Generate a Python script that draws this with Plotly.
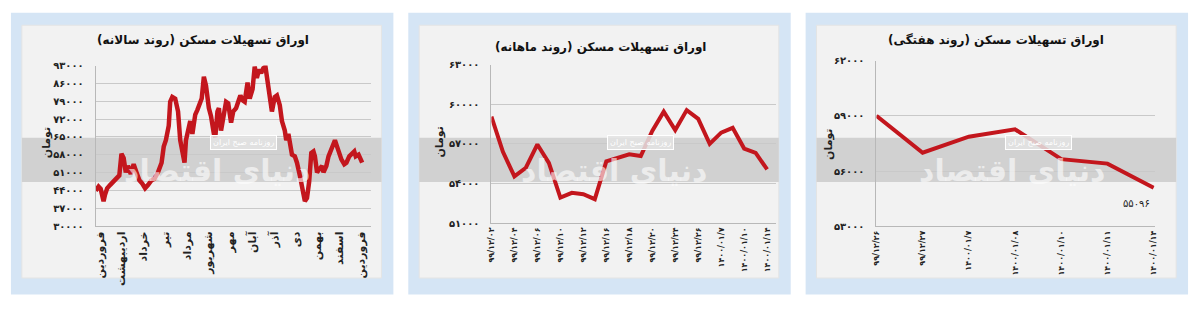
import plotly.graph_objects as go

# ---------------- data ----------------
# Panel 1: yearly trend (days from 1 Farvardin 1399, price in toman)
yearly_day = [-6, -2, 1, 5, 7, 10, 14, 19, 23, 27,
              30, 33, 36, 39, 43, 47, 51, 55, 59, 63,
              67, 72, 76, 81, 86, 89, 92, 96, 98, 101,
              105, 109, 112, 116, 118, 120, 123, 126, 129, 133,
              136, 140, 142, 145, 148, 152, 155, 159, 161, 164,
              166, 169, 172, 176, 179, 183, 186, 190, 193, 196,
              199, 202, 206, 209, 213, 216, 219, 222, 225, 228,
              231, 234, 237, 240, 244, 247, 251, 254, 258, 260,
              263, 266, 268, 272, 275, 279, 282, 286, 289, 292,
              295, 298, 300, 303, 306, 310, 312, 316, 319, 322,
              325, 328, 331, 334, 337, 341, 344, 348, 351, 355,
              357, 361, 364, 366]
yearly_val = [43850, 45500, 44600, 39800, 42300, 44850, 46100, 47600, 48600, 49900,
              58400, 56800, 51100, 53650, 50500, 54300, 51100, 48000, 46700, 44850,
              46100, 48000, 48600, 51100, 54900, 61200, 63700, 69400, 78800, 80700,
              80050, 75000, 63700, 57400, 54900, 63700, 68100, 71250, 66200, 73800,
              75650, 78800, 80050, 88600, 85100, 76300, 73150, 66200, 65000, 75000,
              76300, 67500, 72500, 78800, 78200, 70600, 75000, 76300, 78800, 81300,
              79400, 78800, 86300, 80050, 83800, 92600, 88200, 91400, 90100, 92000,
              92600, 86300, 81300, 75000, 80700, 81300, 77500, 71250, 67500, 63700,
              66200, 61200, 58050, 57400, 54900, 49900, 44850, 39800, 41050, 47400,
              58700, 59300, 57400, 51100, 52300, 53600, 51100, 53600, 57400, 59900,
              62500, 63700, 61200, 58700, 56200, 54300, 54900, 57400, 58050, 59300,
              57400, 58050, 56200, 54900]
month_labels = ["فروردین", "اردیبهشت", "خرداد", "تیر", "مرداد", "شهریور", "مهر",
                "آبان", "آذر", "دی", "بهمن", "اسفند", "فروردین"]
yearly_ticks = [30000, 37000, 44000, 51000, 58000, 65000, 72000, 79000, 86000, 93000]

# Panel 2: monthly trend
monthly_val = [59070, 56400, 54540, 55200, 56960, 55560, 52940, 53300, 53200, 52820,
               55680, 55920, 56210, 56090, 57980, 59440, 58050, 59560, 58900, 57010,
               57860, 58220, 56650, 56330, 55070]
monthly_labels = ["99/12/02", "99/12/04", "99/12/06", "99/12/10", "99/12/12",
                  "99/12/16", "99/12/18", "99/12/20", "99/12/24", "99/12/26",
                  "1400/01/7", "1400/01/10", "1400/01/14"]
monthly_ticks = [51000, 54000, 57000, 60000, 63000]

# Panel 3: weekly trend
weekly_labels = ["99/12/26", "99/12/27", "1400/01/7", "1400/01/08", "1400/01/10",
                 "1400/01/11", "1400/01/14"]
weekly_val = [58995, 56997, 57866, 58265, 56650, 56407, 55096]
weekly_ticks = [53000, 56000, 59000, 62000]

titles = ["اوراق تسهیلات مسکن (روند سالانه)",
          "اوراق تسهیلات مسکن (روند ماهانه)",
          "اوراق تسهیلات مسکن (روند هفتگی)"]
unit = "تومان"
watermark = "دنیای اقتصاد"
watermark_small = "روزنامه صبح ایران"

# ---------------- helpers ----------------
FA = str.maketrans("0123456789", "۰۱۲۳۴۵۶۷۸۹")
RLM = "\u200f"


def fa(s):
    return str(s).translate(FA)


def rtl(s):
    return RLM + s + RLM


W, H = 1200, 310
FONT = "DejaVu Sans"
RED = "#c3161d"
GRID = "#c9c9c9"


def px(x):
    return x / W


def py(y):
    return 1 - y / H


fig = go.Figure()

fig.add_trace(go.Scatter(x=yearly_day, y=yearly_val, mode="lines",
                         line=dict(color=RED, width=4.5), xaxis="x", yaxis="y",
                         showlegend=False, hoverinfo="skip"))
fig.add_trace(go.Scatter(x=list(range(len(monthly_val))), y=monthly_val, mode="lines",
                         line=dict(color=RED, width=4), xaxis="x2", yaxis="y2",
                         showlegend=False, hoverinfo="skip"))
fig.add_trace(go.Scatter(x=list(range(len(weekly_val))), y=weekly_val, mode="lines",
                         line=dict(color=RED, width=4), xaxis="x3", yaxis="y3",
                         showlegend=False, hoverinfo="skip"))

axis_common = dict(showgrid=False, zeroline=False, showline=True, linecolor="#b8b8b8",
                   linewidth=1, ticks="", fixedrange=True)
yaxis_common = dict(showgrid=True, gridcolor=GRID, gridwidth=1, zeroline=False,
                    showline=True, linecolor="#b8b8b8", linewidth=1, ticks="",
                    ticklabelstandoff=9, fixedrange=True,
                    tickfont=dict(family=FONT, size=10, color="#222", weight="bold"))

month_tickvals = [i * 365 / 12 for i in range(13)]

fig.update_layout(
    width=W, height=H,
    margin=dict(l=0, r=0, t=0, b=0),
    paper_bgcolor="white",
    plot_bgcolor="rgba(0,0,0,0)",
    xaxis=dict(axis_common, domain=[px(92.3), px(369)], range=[-6, 377.7],
               tickmode="array", tickvals=month_tickvals,
               ticktext=[rtl(m) for m in month_labels],
               tickangle=-90, anchor="y",
               tickfont=dict(family=FONT, size=11, color="#222", weight="bold")),
    yaxis=dict(yaxis_common, domain=[py(229), py(62)], range=[30000, 93000],
               tickmode="array", tickvals=yearly_ticks,
               ticktext=[fa(v) for v in yearly_ticks], anchor="x"),
    xaxis2=dict(axis_common, domain=[px(490.7), px(776.7)], range=[0, 24.73],
                tickmode="array", tickvals=list(range(0, len(monthly_val), 2)),
                ticktext=[fa(t) for t in monthly_labels], tickangle=-90, anchor="y2",
                tickfont=dict(family=FONT, size=8, color="#222", weight="bold")),
    yaxis2=dict(yaxis_common, domain=[py(226), py(61)], range=[51000, 63000],
                tickmode="array", tickvals=monthly_ticks,
                ticktext=[fa(v) for v in monthly_ticks], anchor="x2"),
    xaxis3=dict(axis_common, domain=[px(878.3), px(1158.3)], range=[0, 6.02],
                tickmode="array", tickvals=list(range(len(weekly_val))),
                ticktext=[fa(t) for t in weekly_labels], tickangle=-90, anchor="y3",
                tickfont=dict(family=FONT, size=8, color="#222", weight="bold")),
    yaxis3=dict(yaxis_common, domain=[py(229.3), py(56.7)], range=[53000, 62000],
                tickmode="array", tickvals=weekly_ticks,
                ticktext=[fa(v) for v in weekly_ticks], anchor="x3"),
)

shapes = []
annotations = []
offsets = [0, 400, 800]
title_pos = [(200, 36), (600, 43), (999, 36)]
unit_pos = [(43, 142), (438, 142), (830, 144)]
for i, ox in enumerate(offsets):
    # outer blue frame
    shapes.append(dict(type="rect", xref="paper", yref="paper", layer="below",
                       x0=px(ox + 7), x1=px(ox + 392), y0=py(300), y1=py(7),
                       fillcolor="#d5e5f5", line=dict(width=0)))
    # inner light panel
    shapes.append(dict(type="rect", xref="paper", yref="paper", layer="below",
                       x0=px(ox + 18), x1=px(ox + 380), y0=py(283), y1=py(20),
                       fillcolor="#f2f2f2", line=dict(color="#e4e4e4", width=1)))
    # grey watermark band
    shapes.append(dict(type="rect", xref="paper", yref="paper", layer="below",
                       x0=px(ox + 18), x1=px(ox + 380), y0=py(183), y1=py(137),
                       fillcolor="#d1d1d1", line=dict(width=0)))
    tx, ty = title_pos[i]
    annotations.append(dict(x=px(tx), y=py(ty), xref="paper", yref="paper",
                            xanchor="center", yanchor="middle",
                            text=rtl(titles[i]), showarrow=False,
                            font=dict(family=FONT, size=12, color="#111", weight="bold")))
    ux, uy = unit_pos[i]
    annotations.append(dict(x=px(ux), y=py(uy), xref="paper", yref="paper",
                            xanchor="center", yanchor="middle",
                            text=rtl(unit), showarrow=False, textangle=-90,
                            font=dict(family=FONT, size=11, color="#222", weight="bold")))
    # watermark
    annotations.append(dict(x=px(ox + 215), y=py(171), xref="paper", yref="paper",
                            xanchor="center", yanchor="middle",
                            text=rtl(watermark), showarrow=False,
                            font=dict(family=FONT, size=30, color="rgba(255,255,255,0.6)",
                                      weight="bold")))
    annotations.append(dict(x=px(ox + 241), y=py(142), xref="paper", yref="paper",
                            xanchor="center", yanchor="middle",
                            text=rtl(watermark_small), showarrow=False,
                            bgcolor="rgba(228,228,228,0.85)", bordercolor="white",
                            borderwidth=1, borderpad=2,
                            font=dict(family=FONT, size=8, color="white")))

# value label at the end of the weekly series
annotations.append(dict(x=6, y=weekly_val[-1], xref="x3", yref="y3",
                        text=fa(weekly_val[-1]), showarrow=False,
                        xanchor="right", yanchor="top", xshift=-2, yshift=-8,
                        font=dict(family=FONT, size=10, color="#222")))

fig.update_layout(shapes=shapes, annotations=annotations)

fig.write_html("out.html")
